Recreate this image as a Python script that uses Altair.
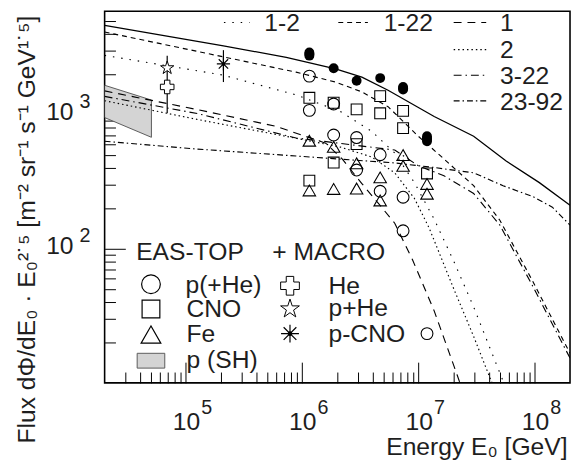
import altair as alt
import pandas as pd

FONT = "Liberation Sans"
INK = "#1e1e1e"

# ---------------- model curves (E0 [GeV], flux*E^2.5) ----------------
tot_E = [2.0e4, 2.10e5, 7.28e5, 1.93e6, 3.25e6, 5.46e6, 1.36e7, 2.97e7, 5.65e7, 1.09e8, 2.0e8]
tot_F = [4630, 3254, 2670, 2189, 1903, 1519, 967, 689, 451, 311, 211]

c1_22_E = [2.0e4, 1.26e5, 8.84e5, 1.93e6, 3.25e6, 5.46e6, 9.94e6, 1.65e7, 2.97e7, 4.99e7, 9.56e7, 2.0e8]
c1_22_F = [4125, 2955, 2071, 1748, 1476, 1145, 689, 467, 295, 163, 57.2, 16.6]

c1_2_E = [2.0e4, 2.09e5, 4.92e5, 8.84e5, 2.13e6, 3.95e6, 6.23e6, 9.20e6, 1.36e7, 2.01e7, 2.97e7, 5.32e7, 5.5e7]
c1_2_F = [2762, 1968, 1607, 1403, 1052, 750, 517, 311, 166, 80.2, 36.8, 10.3, 9.5]

c1_E = [2.0e4, 1.26e5, 5.99e5, 1.59e6, 2.20e6, 3.25e6, 4.80e6, 6.23e6, 8.84e6, 1.36e7, 2.14e7, 2.34e7]
c1_F = [1501, 1088, 816, 612, 467, 306, 204, 155, 83.0, 34.4, 11.5, 9.2]

c2_E = [2.0e4, 1.26e5, 8.84e5, 2.13e6, 3.95e6, 6.23e6, 9.20e6, 1.23e7, 2.01e7, 2.97e7, 4.21e7, 4.38e7]
c2_F = [1268, 919, 666, 572, 483, 368, 237, 143, 49.9, 22.2, 10.3, 9.5]

c3_22_E = [2.0e4, 1.26e5, 8.84e5, 6.23e6, 9.94e6, 1.65e7, 2.97e7, 4.99e7, 9.56e7, 2.0e8]
c3_22_F = [1366, 1017, 669, 544, 415, 350, 258, 150, 52.6, 15.3]

c23_92_E = [2.0e4, 1.26e5, 8.84e5, 6.23e6, 1.36e7, 2.97e7, 5.32e7, 9.56e7, 1.41e8, 2.0e8]
c23_92_F = [633, 553, 491, 436, 403, 368, 295, 245, 204, 150]

# ---------------- EAS-TOP points ----------------
all_E = [1.15e6, 1.86e6, 2.93e6, 4.67e6, 7.35e6, 1.18e7]
all_F = [2823, 2216, 1787, 1871, 1572, 660]
cap_E = [1.15e6, 7.35e6, 1.18e7]
cap_lo = [2749, 1535, 633]
cap_hi = [2905, 1607, 689]

p_E = [1.15e6, 1.15e6, 1.86e6, 1.86e6, 2.93e6, 2.93e6, 4.67e6, 4.67e6, 7.35e6, 7.35e6, 1.18e7]
p_F = [1936, 1075, 1199, 704, 674, 386, 502, 268, 242, 136, 23.3]

cno_E = [1.15e6, 1.15e6, 1.86e6, 1.86e6, 2.93e6, 2.93e6, 4.67e6, 4.67e6, 7.35e6, 7.35e6, 1.18e7]
cno_F = [1334, 322, 1225, 439, 1094, 602, 1373, 1022, 1065, 793, 364]

fe_E = [1.15e6, 1.15e6, 1.86e6, 1.86e6, 2.93e6, 2.93e6, 4.67e6, 4.67e6, 7.35e6, 7.35e6, 1.18e7, 1.18e7]
fe_F = [638, 272, 575, 279, 433, 281, 340, 229, 499, 415, 304, 257]

# ---------------- MACRO points ----------------
he_E, he_F, he_lo, he_hi = [6.9e4], [1607], [1022], [1903]
phe_E, phe_F, phe_lo, phe_hi = [6.9e4], [2227], [1903], [2748]
pcno_E, pcno_F, pcno_lo, pcno_hi = [2.1e5], [2384], [1748], [3021]

# ---------------- p (SH) band ----------------
sh_E = [2.0e4, 5.05e4]
sh_lo = [950, 677]
sh_hi = [1653, 1283]

# ---------------- tick values ----------------
x_major = [1e5, 1e6, 1e7, 1e8]
x_minor = [3e4, 4e4, 5e4, 6e4, 7e4, 8e4, 9e4,
           2e5, 3e5, 4e5, 5e5, 6e5, 7e5, 8e5, 9e5,
           2e6, 3e6, 4e6, 5e6, 6e6, 7e6, 8e6, 9e6,
           2e7, 3e7, 4e7, 5e7, 6e7, 7e7, 8e7, 9e7]
y_major = [100, 1000]
y_minor = [20, 30, 40, 50, 60, 70, 80, 90,
           200, 300, 400, 500, 600, 700, 800, 900,
           2000, 3000, 4000, 5000]

dash = {
    "1-22": [5, 4],
    "1-2": [1.5, 7],
    "1": [8, 6],
    "2": [1.5, 3],
    "3-22": [8, 4, 1.5, 4],
    "23-92": [6, 3, 1.5, 3],
}
curve_data = {
    "1-22": (c1_22_E, c1_22_F),
    "1-2": (c1_2_E, c1_2_F),
    "1": (c1_E, c1_F),
    "2": (c2_E, c2_F),
    "3-22": (c3_22_E, c3_22_F),
    "23-92": (c23_92_E, c23_92_F),
}

STAR = ("M0,-1L0.2245,-0.309L0.951,-0.309L0.3633,0.118L0.5878,0.809L0,0.382"
        "L-0.5878,0.809L-0.3633,0.118L-0.951,-0.309L-0.2245,-0.309Z")
ASTER = "M-1,0L1,0M0,-1L0,1M-0.71,-0.71L0.71,0.71M-0.71,0.71L0.71,-0.71"

xs = alt.Scale(type="log", domain=[2e4, 2e8], nice=False)
ys = alt.Scale(type="log", domain=[10, 5900], nice=False)

common = dict(domain=False, grid=False, tickColor="black", tickWidth=1,
              labelFont=FONT, labelColor=INK, labelFlush=False, labelOverlap=False)

ax_major = alt.Axis(orient="bottom", values=x_major, tickSize=21, offset=-21,
                    labelExpr="'10'", labelFontSize=25, labelAlign="center",
                    labelBaseline="alphabetic", labelPadding=47, title=None, **common)
ay_major = alt.Axis(orient="left", values=y_major, tickSize=21, offset=-21,
                    labelExpr="'10'", labelFontSize=25, labelAlign="right",
                    labelBaseline="alphabetic", labelPadding=32, labelOffset=5,
                    title=None, **common)
ax_minor = alt.Axis(orient="bottom", values=x_minor, tickSize=11, offset=-11,
                    labels=False, title=None, **common)
ay_minor = alt.Axis(orient="left", values=y_minor, tickSize=11, offset=-11,
                    labels=False, title=None, **common)
ax_sup = alt.Axis(orient="bottom", values=x_major, ticks=False, tickSize=0,
                  labelExpr="format(round(log(datum.value)/LN10), 'd')",
                  labelFontSize=20, labelAlign="left", labelBaseline="alphabetic",
                  labelPadding=31.5, labelOffset=15,
                  title="Energy E₀ [GeV]", titleFont=FONT, titleFontSize=25,
                  titleFontWeight="normal", titleColor=INK, titleAlign="right",
                  titleBaseline="alphabetic", titleX=469, titleY=73, **common)
ay_sup = alt.Axis(orient="left", values=y_major, ticks=False, tickSize=0,
                  labelExpr="format(round(log(datum.value)/LN10), 'd')",
                  labelFontSize=20, labelAlign="left", labelBaseline="alphabetic",
                  labelPadding=26, labelOffset=-7,
                  title="Flux dΦ/dE₀ · E₀²˙⁵ [m⁻² sr⁻¹ s⁻¹ GeV¹˙⁵]",
                  titleFont=FONT, titleFontSize=25, titleFontWeight="normal",
                  titleColor=INK, titleAngle=270, titleAlign="center",
                  titleBaseline="alphabetic", titleX=-71.5, titleY=221, **common)


def X(axis=None):
    return alt.X("E:Q", scale=xs, axis=axis)


def Y(field="F", axis=None):
    return alt.Y(f"{field}:Q", scale=ys, axis=axis)


ONE = pd.DataFrame({"k": [0]})
layers = []

# band p(SH)
layers.append(alt.Chart(pd.DataFrame({"E": sh_E, "lo": sh_lo, "hi": sh_hi})).mark_area(
    color="#d4d4d4", stroke="#5a5a5a", strokeWidth=1, opacity=1, clip=True
).encode(x=X(ax_major), y=Y("lo", ay_major), y2="hi:Q"))

# total
layers.append(alt.Chart(pd.DataFrame({"E": tot_E, "F": tot_F})).mark_line(
    color="black", strokeWidth=1.3, clip=True
).encode(x=X(ax_minor), y=Y("F", ay_minor)))

# components
for name, (E, F) in curve_data.items():
    layers.append(alt.Chart(pd.DataFrame({"E": E, "F": F})).mark_line(
        color="black", strokeWidth=1.15, strokeDash=dash[name], clip=True
    ).encode(x=X(), y=Y()))

# EAS-TOP
layers.append(alt.Chart(pd.DataFrame({"E": p_E, "F": p_F})).mark_point(
    shape="circle", filled=False, color="black", strokeWidth=1.1, size=144, opacity=1, clip=True
).encode(x=X(ax_sup), y=Y("F", ay_sup)))
layers.append(alt.Chart(pd.DataFrame({"E": cno_E, "F": cno_F})).mark_point(
    shape="square", filled=False, color="black", strokeWidth=1.1, size=121, opacity=1, clip=True
).encode(x=X(), y=Y()))
layers.append(alt.Chart(pd.DataFrame({"E": fe_E, "F": fe_F})).mark_point(
    shape="triangle-up", filled=False, color="black", strokeWidth=1.1, size=160, opacity=1, clip=True
).encode(x=X(), y=Y()))
layers.append(alt.Chart(pd.DataFrame({"E": cap_E, "lo": cap_lo, "hi": cap_hi})).mark_rule(
    color="black", strokeWidth=10, strokeCap="round"
).encode(x=X(), y=Y("lo"), y2="hi:Q"))
layers.append(alt.Chart(pd.DataFrame({"E": all_E, "F": all_F})).mark_point(
    shape="circle", filled=True, color="black", size=100, opacity=1
).encode(x=X(), y=Y()))

# MACRO
for E, F, lo, hi, kind in [
    (he_E, he_F, he_lo, he_hi, "cross"),
    (phe_E, phe_F, phe_lo, phe_hi, "star"),
    (pcno_E, pcno_F, pcno_lo, pcno_hi, "aster"),
]:
    df = pd.DataFrame({"E": E, "F": F, "lo": lo, "hi": hi})
    layers.append(alt.Chart(df).mark_rule(color="black", strokeWidth=1.2).encode(
        x=X(), y=Y("lo"), y2="hi:Q"))
    if kind == "cross":
        layers.append(alt.Chart(df).mark_point(
            shape="cross", filled=True, fill="white", stroke="black", strokeWidth=1,
            size=190, opacity=1).encode(x=X(), y=Y()))
    elif kind == "star":
        layers.append(alt.Chart(df).mark_point(
            shape=STAR, filled=True, fill="white", stroke="black", strokeWidth=1,
            size=200, opacity=1).encode(x=X(), y=Y()))
    else:
        layers.append(alt.Chart(df).mark_point(
            shape=ASTER, filled=False, color="black", strokeWidth=1.2,
            size=180, opacity=1).encode(x=X(), y=Y()))
        layers.append(alt.Chart(df).mark_point(
            shape="circle", filled=True, color="black", size=12, opacity=1).encode(
            x=X(), y=Y()))


# ---------------- legends (pixel placed) ----------------
def txt(s, x, y, size=25):
    return alt.Chart(ONE).mark_text(font=FONT, fontSize=size, color=INK, align="left",
                                    baseline="alphabetic", text=s).encode(
        x=alt.value(x), y=alt.value(y))


def sample(x1, x2, y, d):
    return alt.Chart(ONE).mark_rule(color="black", strokeWidth=1.15, strokeDash=d).encode(
        x=alt.value(x1), x2=alt.value(x2), y=alt.value(y))


def sym(x, y, shape, size, fill=None, sw=1.2):
    kw = dict(shape=shape, size=size, opacity=1, strokeWidth=sw)
    if fill:
        kw.update(filled=True, fill=fill, stroke="black")
    else:
        kw.update(filled=False, color="black")
    return alt.Chart(ONE).mark_point(**kw).encode(x=alt.value(x), y=alt.value(y))


# top legend
layers += [sample(121, 147, 11.5, dash["1-2"]), txt("1-2", 162, 20.5)]
layers += [sample(237, 267, 11.5, dash["1-22"]), txt("1-22", 283, 20.5)]
for name, yb in [("1", 20.5), ("2", 48), ("3-22", 74), ("23-92", 100)]:
    layers += [sample(354, 387, yb - 9, dash[name]), txt(name, 401, yb)]

# bottom legend
layers += [txt("EAS-TOP", 32, 252), txt("+ MACRO", 170, 252)]
layers += [sym(47, 277, "circle", 361), txt("p(+He)", 82, 286)]
layers += [sym(47, 302, "square", 324), txt("CNO", 83, 310.5)]
layers += [sym(47, 328, "triangle-up", 400), txt("Fe", 83, 335.5)]
layers += [alt.Chart(ONE).mark_rect(fill="#d4d4d4", stroke="#5a5a5a", strokeWidth=1).encode(
    x=alt.value(33), x2=alt.value(61), y=alt.value(347), y2=alt.value(362)),
    txt("p (SH)", 83, 362)]
layers += [sym(188, 278.5, "cross", 361, fill="white", sw=1), txt("He", 227, 287)]
layers += [sym(188, 302, STAR, 400, fill="white", sw=1), txt("p+He", 227, 309)]
layers += [sym(188, 327, ASTER, 330), sym(188, 327, "circle", 12, fill="black"),
           txt("p-CNO", 227, 335.5)]

chart = alt.layer(*layers).resolve_axis(x="independent", y="independent").properties(
    width=472, height=377,
    autosize=alt.AutoSizeParams(type="none"),
    padding={"left": 98, "top": 0, "right": 1, "bottom": 75},
    background="white",
).configure_view(stroke="black", strokeWidth=1.6)

chart.save("out.html", embed_options={"renderer": "svg", "actions": False})
